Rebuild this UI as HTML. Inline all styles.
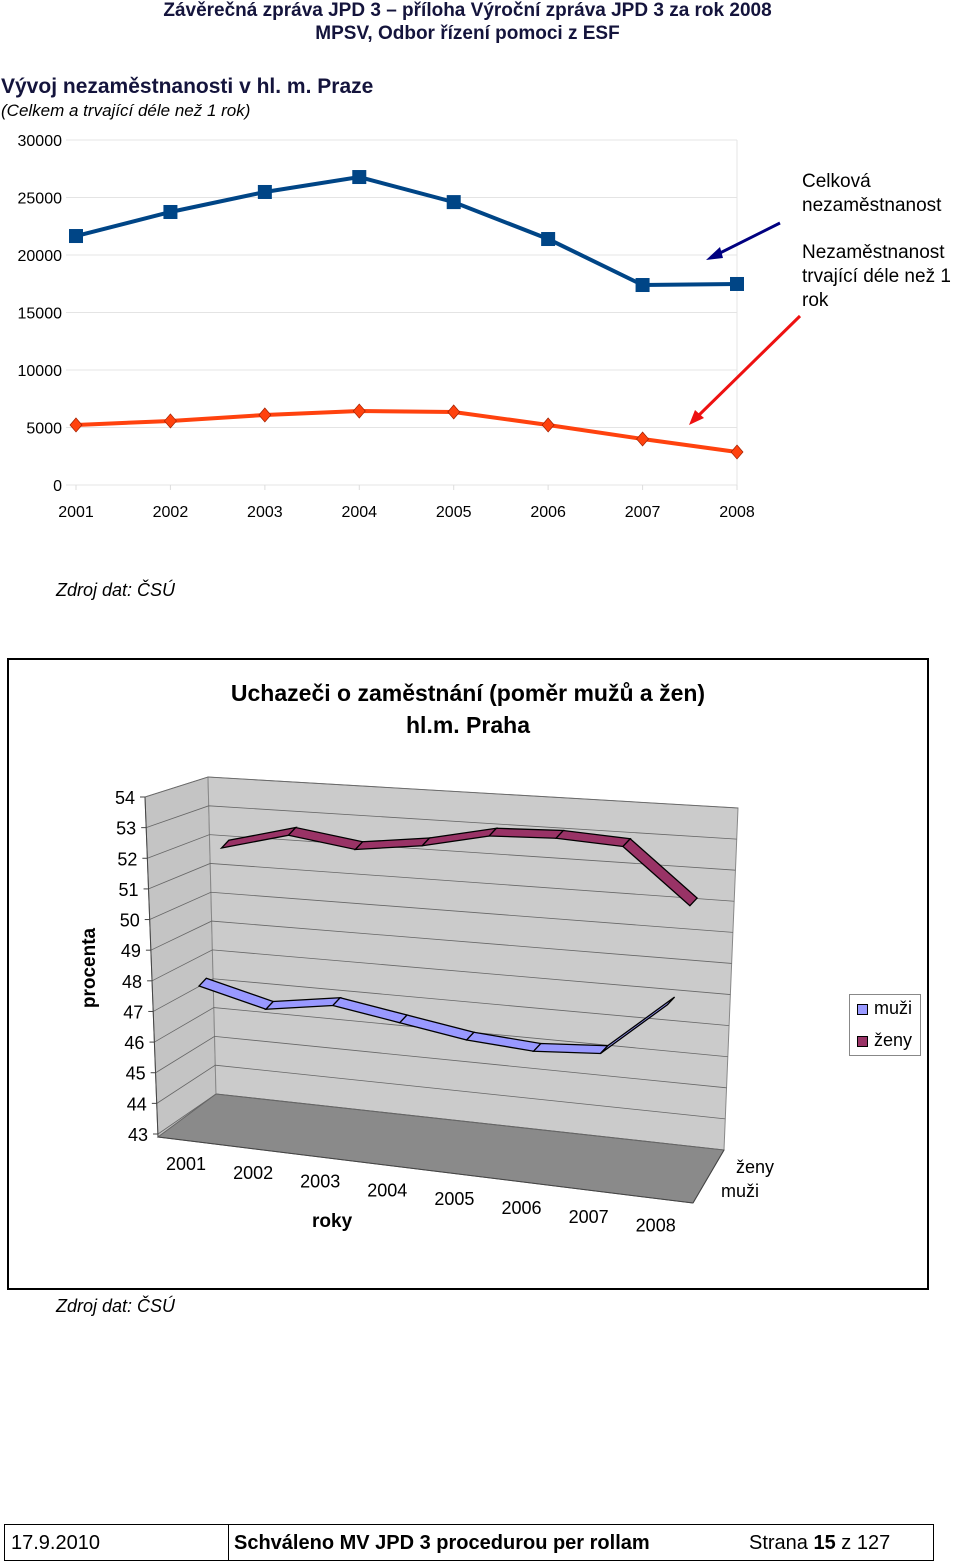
<!DOCTYPE html>
<html><head><meta charset="utf-8"><style>
body{margin:0;width:960px;height:1563px;background:#fff;font-family:"Liberation Sans",sans-serif;position:relative;overflow:hidden}
.t{position:absolute;white-space:nowrap;color:#000}
</style></head><body>
<div class="t" style="left:0;width:935px;text-align:center;top:0;font-size:19px;font-weight:bold;color:#14143c">Závěrečná zpráva JPD 3 – příloha Výroční zpráva JPD 3 za rok 2008</div>
<div class="t" style="left:0;width:935px;text-align:center;top:23px;font-size:19px;font-weight:bold;color:#14143c">MPSV, Odbor řízení pomoci z ESF</div>
<div class="t" style="left:1px;top:75px;font-size:21px;font-weight:bold;color:#14143c">Vývoj nezaměstnanosti v hl. m. Praze</div>
<div class="t" style="left:1px;top:101px;font-size:17px;font-style:italic">(Celkem a trvající déle než 1 rok)</div>

<svg style="position:absolute;left:0;top:120px" width="960" height="420" id="c1"></svg>
<div class="t" style="left:802px;top:170px;font-size:19px;line-height:24px">Celková<br>nezaměstnanost</div>
<div class="t" style="left:802px;top:241px;font-size:19px;line-height:24px">Nezaměstnanost<br>trvající déle než 1<br>rok</div>
<div class="t" style="left:56px;top:580px;font-size:18px;font-style:italic">Zdroj dat: ČSÚ</div>

<div style="position:absolute;left:7px;top:658px;width:918px;height:628px;border:2px solid #000"></div>
<div class="t" style="left:8px;width:920px;text-align:center;top:677px;font-size:23px;font-weight:bold;line-height:32px">Uchazeči o zaměstnání (poměr mužů a žen)<br>hl.m. Praha</div>
<svg style="position:absolute;left:0;top:0" width="960" height="1300" id="c2"></svg>
<div class="t" style="left:50px;top:957px;font-size:19px;font-weight:bold;transform:rotate(-90deg);transform-origin:center">procenta</div>
<div class="t" style="left:312px;top:1211px;font-size:19px;font-weight:bold">roky</div>
<div style="position:absolute;left:849px;top:994px;width:70px;height:60px;border:1px solid #888;background:#fff"></div>
<div style="position:absolute;left:857px;top:1004px;width:9px;height:9px;background:#9999ff;border:1px solid #000"></div>
<div class="t" style="left:874px;top:998px;font-size:18px">muži</div>
<div style="position:absolute;left:857px;top:1036px;width:9px;height:9px;background:#993366;border:1px solid #000"></div>
<div class="t" style="left:874px;top:1030px;font-size:18px">ženy</div>
<div class="t" style="left:56px;top:1296px;font-size:18px;font-style:italic">Zdroj dat: ČSÚ</div>

<div style="position:absolute;left:4px;top:1524px;width:928px;height:35px;border:1px solid #000"></div>
<div style="position:absolute;left:228px;top:1524px;width:1px;height:37px;background:#000"></div>
<div class="t" style="left:11px;top:1532px;font-size:20px">17.9.2010</div>
<div class="t" style="left:234px;top:1532px;font-size:20px;font-weight:bold">Schváleno MV JPD 3 procedurou per rollam</div>
<div class="t" style="left:749px;top:1532px;font-size:20px">Strana <b>15</b> z 127</div>

<script>
const years=["2001","2002","2003","2004","2005","2006","2007","2008"];
const totalUnemp=[21650,23740,25480,26780,24600,21390,17390,17480];
const longTerm=[5220,5570,6090,6430,6350,5220,4000,2870];
const yTicks=[0,5000,10000,15000,20000,25000,30000];
const NS="http://www.w3.org/2000/svg";
function mk(svg,tag,a){const e=document.createElementNS(NS,tag);for(const k in a)e.setAttribute(k,a[k]);svg.appendChild(e);return e;}
const s1=document.getElementById('c1');
const X=i=>76+i*(737-76)/7, Y=v=>365-v*345/30000;
yTicks.forEach(t=>{const g=mk(s1,'line',{x1:66,x2:737,y1:Y(t),y2:Y(t),stroke:'#e4e4e4'});


const l=mk(s1,'text',{x:62,y:Y(t)+6,'text-anchor':'end','font-size':'16','font-family':'Liberation Sans'});l.textContent=t;

});
mk(s1,'line',{x1:737,x2:737,y1:Y(30000),y2:Y(0),stroke:'#e4e4e4'});
years.forEach((y,i)=>{const l=mk(s1,'text',{x:X(i),y:397,'text-anchor':'middle','font-size':'16','font-family':'Liberation Sans'});l.textContent=y;


mk(s1,'line',{x1:X(i),x2:X(i),y1:Y(0),y2:Y(0)+5,stroke:'#ddd'});});
const p1=mk(s1,'polyline',{points:totalUnemp.map((v,i)=>X(i)+','+Y(v)).join(' '),fill:'none',stroke:'#004586','stroke-width':4});


totalUnemp.forEach((v,i)=>{const r=mk(s1,'rect',{x:X(i)-7,y:Y(v)-7,width:14,height:14,fill:'#004586'});

});
const p2=mk(s1,'polyline',{points:longTerm.map((v,i)=>X(i)+','+Y(v)).join(' '),fill:'none',stroke:'#ff420e','stroke-width':4});


longTerm.forEach((v,i)=>{const x=X(i),y=Y(v);const r=mk(s1,'polygon',{points:`${x},${y-7} ${x+6},${y} ${x},${y+7} ${x-6},${y}`,fill:'#ff420e',stroke:'#a02000','stroke-width':0.7});

});
const a1=mk(s1,'line',{x1:780,y1:103,x2:716,y2:135,stroke:'#000080','stroke-width':3});


mk(s1,'polygon',{points:'706,140 720,127 723,138',fill:'#000080'});
const a2=mk(s1,'line',{x1:800,y1:196,x2:697,y2:297,stroke:'#ee1111','stroke-width':3});


mk(s1,'polygon',{points:'689,305 695,290 704,298',fill:'#ee1111'});

// chart 2
const cats2=["2001","2002","2003","2004","2005","2006","2007","2008"];
const muzi=[47.9,47.4,47.8,47.5,47.2,47.1,47.3,49.2];
const zeny=[51.7,52.4,52.2,52.6,53.2,53.4,53.4,51.7];
const ticks2=[43,44,45,46,47,48,49,50,51,52,53,54];
const s2=document.getElementById('c2');
mk(s2,'polygon',{points:'145,797 208,777 216,1094 158,1137',fill:'#c4c4c4',stroke:'#888'});
mk(s2,'polygon',{points:'208,777 738,808 724,1150 216,1094',fill:'#cbcbcb',stroke:'#888'});
const fl=mk(s2,'polygon',{points:'158,1137 216,1094 724,1150 693,1203',fill:'#8a8a8a',stroke:'#666'});


ticks2.forEach(v=>{const k=(v-43)/11;
const fx=158-13*k, fy=1134-k*337, bx=216-8*k, by=1094-k*317, rx=724+14*k, ry=1150-k*342;
const g=mk(s2,'polyline',{points:`${fx},${fy} ${bx},${by} ${rx},${ry}`,fill:'none',stroke:'#666','stroke-width':0.8});


mk(s2,'line',{x1:fx-5,x2:fx,y1:fy,y2:fy,stroke:'#444'});
const l=mk(s2,'text',{x:fx-10,y:fy+7,'text-anchor':'end','font-size':'18','font-family':'Liberation Sans'});l.textContent=v;

});
mk(s2,'line',{x1:158,y1:1137,x2:145,y2:797,stroke:'#444'});
mk(s2,'line',{x1:158,y1:1137,x2:693,y2:1203,stroke:'#444'});
mk(s2,'line',{x1:693,y1:1203,x2:724,y2:1150,stroke:'#444'});
cats2.forEach((c,i)=>{const l=mk(s2,'text',{x:186+i*67.1,y:1170+i*8.8,'text-anchor':'middle','font-size':'18','font-family':'Liberation Sans'});l.textContent=c;

});
[['ženy',736,1173],['muži',721,1197]].forEach(a=>{const l=mk(s2,'text',{x:a[1],y:a[2],'font-size':'18','font-family':'Liberation Sans'});l.textContent=a[0];

});
function P(i,d,v){return [158+(i+0.5)*66.9+d*45, 1137+(i+0.5)*8.25-d*48-(v-43)*30];}
function ribbon(vals,d,fill,name){for(let i=0;i<vals.length-1;i++){
const a=P(i,d-0.08,vals[i]),b=P(i+1,d-0.08,vals[i+1]),c=P(i+1,d+0.08,vals[i+1]),e=P(i,d+0.08,vals[i]);
const r=mk(s2,'polygon',{points:[a,b,c,e].map(p=>p.join(',')).join(' '),fill:fill,stroke:'#000','stroke-width':1.3});

}}
ribbon(zeny,0.75,'#993366','ribbon-zeny');
ribbon(muzi,0.25,'#9999ff','ribbon-muzi');
</script>
</body></html>
